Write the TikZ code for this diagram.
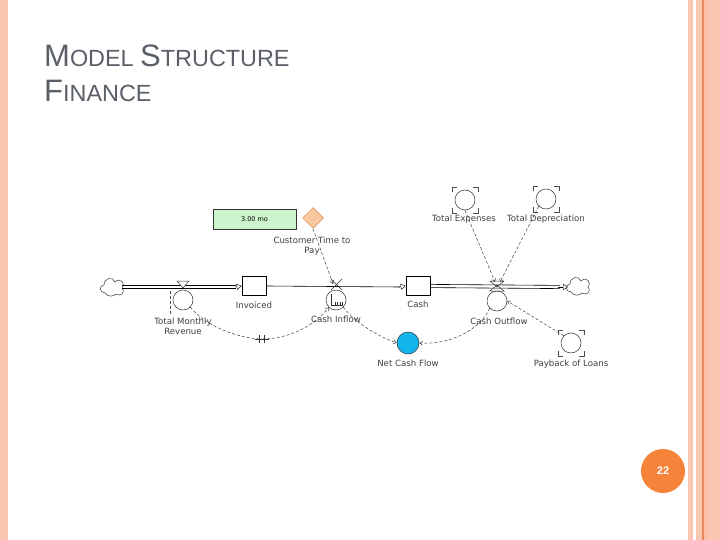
\documentclass[tikz,border=0pt]{standalone}
\usepackage{fontspec}
\setmainfont{Liberation Sans}
\newfontfamily\labfont{DejaVu Sans}
\usetikzlibrary{arrows.meta,shapes.geometric,positioning}
\definecolor{stripe}{HTML}{F9C6B2}
\definecolor{stripedark}{HTML}{E8885A}
\definecolor{stripemid}{HTML}{FBBFA5}
\definecolor{titlegray}{HTML}{5B6068}
\definecolor{pagecirc}{HTML}{F5843A}
\definecolor{netblue}{HTML}{12B5EA}
\definecolor{diamondfill}{HTML}{F9C89E}
\definecolor{diamondline}{HTML}{D48A50}
\definecolor{constfill}{HTML}{CDF5CD}
\tikzset{
  lab/.style={font=\labfont\fontsize{8.6}{10}\selectfont, text=black!75, align=center, inner sep=0pt},
  auxc/.style={circle, draw=black!80, line width=0.5pt, minimum size=20pt, inner sep=0pt},
  stockbox/.style={rectangle, draw=black, line width=0.6pt, minimum width=24pt, minimum height=19pt, inner sep=0pt},
  infl/.style={densely dashed, line width=0.45pt, black!80, -{Straight Barb[length=3pt,width=4pt]}},
  pipeend/.style={-{Triangle[open,length=5pt,width=6pt,fill=white]}},
  pipe/.style={line width=0.6pt, black},
  bracket/.style={black!70, line width=0.6pt},
}
\newcommand{\shadowbr}[2]{%
  \draw[bracket] (#1-13,#2-8) -- (#1-13,#2-13) -- (#1-8,#2-13);
  \draw[bracket] (#1+8,#2-13) -- (#1+13,#2-13) -- (#1+13,#2-8);
  \draw[bracket] (#1-13,#2+8) -- (#1-13,#2+13) -- (#1-8,#2+13);
  \draw[bracket] (#1+8,#2+13) -- (#1+13,#2+13) -- (#1+13,#2+8);}
\newcommand{\cloudat}[2]{%
  \draw[black!80, line width=0.5pt] (#1-7,#2+6) .. controls (#1-13,#2+6) and (#1-13,#2-2) .. (#1-8,#2-2)
     .. controls (#1-8,#2-9) and (#1+1,#2-11) .. (#1+3,#2-5)
     .. controls (#1+8,#2-10) and (#1+14,#2-4) .. (#1+10,#2+1)
     .. controls (#1+14,#2+6) and (#1+8,#2+10) .. (#1+4,#2+7)
     .. controls (#1+1,#2+10) and (#1-4,#2+10) .. (#1-7,#2+6);}
\begin{document}
\begin{tikzpicture}[x=1pt,y=-1pt]
\useasboundingbox (0,0) rectangle (720,540);
\fill[white] (0,0) rectangle (720,540);
% slide decoration
\fill[stripe] (0,0) rectangle (8,540);
\fill[stripe] (688,0) rectangle (692.5,540);
\fill[stripe] (696,0) rectangle (702,540);
\fill[stripedark] (702,0) rectangle (703.5,540);
\fill[stripemid] (703.5,0) rectangle (708,540);
\fill[stripe] (708,0) rectangle (720,540);
% title
\node[anchor=base west, inner sep=0pt, text=titlegray] (t1) at (44,67)
  {\fontsize{31}{31}\selectfont M\fontsize{23.4}{23.4}\selectfont ODEL \fontsize{31}{31}\selectfont S\fontsize{23.4}{23.4}\selectfont TRUCTURE};
\node[anchor=base west, inner sep=0pt, text=titlegray] (t2) at (44,102)
  {\fontsize{31}{31}\selectfont F\fontsize{23.4}{23.4}\selectfont INANCE};
% page number
\node[circle, fill=pagecirc, minimum size=44pt, inner sep=0pt, text=white, font=\bfseries\fontsize{11}{11}\selectfont] (pg) at (663,471) {22};

% ---------------- diagram ----------------
% stocks
\node[stockbox] (inv) at (254,286) {};
\node[lab, anchor=base] (invl) at (254,308) {Invoiced};
\node[stockbox] (cash) at (418,286) {};
\node[lab, anchor=base] (cashl) at (418,307) {Cash};
% clouds
\coordinate (cl1) at (122,287);
\cloudat{112}{287}
\coordinate (cl2) at (568,287);
\cloudat{578}{286}
% pipes
\draw[pipe] (cl1) ++(0,-1.6) -- ++(114,0);
\draw[pipe] (cl1) ++(0,1.6) -- ++(114,0);
\draw[pipeend] (235,287) -- (inv.west);
\draw[pipe] (inv.east) -- (400,287);
\draw[pipeend] (398,287) -- (cash.west);
\draw[pipe] (cash.east) ++(0,-1.6) -- (560,285.4);
\draw[pipe] (cash.east) ++(0,1.6) -- (560,288.6);
\draw[pipeend] (558,287) -- (cl2);
% valves
\draw[black!80, line width=0.5pt, fill=white] (177,281) -- (189,281) -- (183,288) -- cycle;
\draw[black!80, line width=0.5pt] (331,279) -- (342,290) (342,279) -- (331,290);
\draw[black!80, line width=0.5pt] (490,281) -- (504,281) -- (497,287) -- cycle;
\draw[black!80, line width=0.5pt] (490,291) -- (504,291) -- (497,285) -- cycle;
% rate circles
\node[auxc] (tmr) at (183,300) {};
\node[lab, anchor=base] (tmrl) at (183,334) {Total Monthly\\Revenue};
\draw[black!70, densely dashed, line width=0.5pt] (170,291) -- (170,316);
\node[auxc] (cin) at (336,300) {};
\draw[black!80, line width=0.5pt] (331,294) -- (331,305) -- (343,305) (335,305) -- (335,302) (337.5,305) -- (337.5,302) (340,305) -- (340,302) (342.5,305)--(342.5,302);
\node[lab, anchor=base] (cinl) at (336,322) {Cash Inflow};
\node[auxc] (cout) at (497,301) {};
\node[lab, anchor=base] (coutl) at (499,324) {Cash Outflow};
% auxiliaries
\node[circle, fill=netblue, draw=black!80, line width=0.5pt, minimum size=22pt, inner sep=0pt] (ncf) at (408,343) {};
\node[lab, anchor=base] (ncfl) at (408,366) {Net Cash Flow};
\node[auxc] (pay) at (571,343) {};
\shadowbr{571}{343}
\node[lab, anchor=base] (payl) at (571,366) {Payback of Loans};
\node[auxc] (texp) at (465,200) {};
\shadowbr{465}{200}
\node[lab, anchor=base] (texpl) at (464,222) {Total Expenses};
\node[auxc] (tdep) at (546,199) {};
\shadowbr{546}{199}
\node[lab, anchor=base] (tdepl) at (546,222) {Total Depreciation};
% constant
\node[rectangle, draw=black!80, fill=constfill, line width=0.5pt, minimum width=83pt, minimum height=20pt, inner sep=0pt, font=\labfont\fontsize{6.5}{6.5}\selectfont] (ctp0) at (254.5,219) {3.00 mo};
\node[diamond, draw=diamondline, fill=diamondfill, line width=0.5pt, minimum size=21pt, inner sep=0pt] (ctp) at (313,218) {};
\node[lab, anchor=base] (ctpl) at (312,254) {Customer Time to\\Pay};
% influences
\coordinate (cinv) at (333,284);
\coordinate (coutv) at (495,282);
\coordinate (coutv2) at (500,282);
\coordinate (dly) at (262,339);
\draw[infl] (ctp.south) -- (cinv);
\draw[densely dashed, line width=0.45pt, black!80] (tmr.south east) .. controls (205,325) and (235,338) .. (dly);
\draw[infl] (dly) .. controls (290,339) and (315,325) .. (cin.south west);
\draw[black!80, line width=0.6pt] (255,339) -- (269,339) (259.5,335) -- (259.5,343) (264.5,335) -- (264.5,343);
\draw[infl] (cin.south east) .. controls (355,322) and (375,335) .. (ncf.west);
\draw[infl] (cout.south west) .. controls (480,330) and (450,345) .. (ncf.east);
\draw[infl] (texp.south) -- (coutv);
\draw[infl] (tdep.south west) -- (coutv2);
\draw[infl] (pay.north west) -- (cout.east);
\end{tikzpicture}
\end{document}
